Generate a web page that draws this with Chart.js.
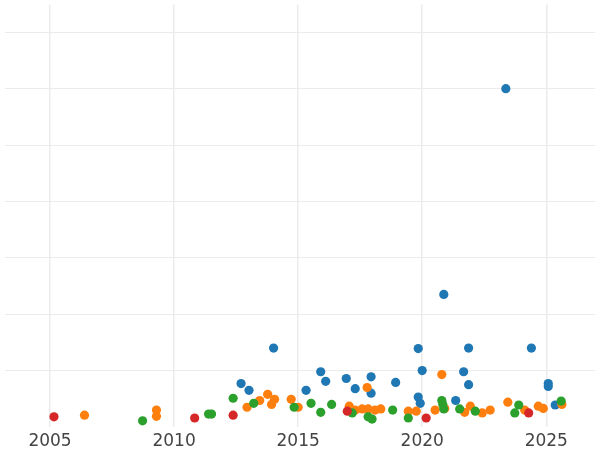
<!DOCTYPE html>
<html><head><meta charset="utf-8">
<script src="https://cdn.jsdelivr.net/npm/chart.js@4"></script>
<style>html,body{margin:0;padding:0;background:#fff}#w{width:600px;height:450px}</style>
</head><body><div id="w"><canvas id="c"></canvas></div>
<script>
const blueX=[2012.70,2013.02,2014.01,2015.32,2015.91,2016.11,2016.94,2017.30,2017.94,2017.94,2018.93,2019.84,2019.84,2019.92,2020.00,2020.87,2021.35,2021.67,2021.87,2021.87,2023.37,2024.40,2025.08,2025.08,2025.36];
const blueY=[0.77,0.65,1.40,0.65,0.98,0.81,0.86,0.68,0.89,0.60,0.79,1.39,0.53,0.42,1.00,2.35,0.47,0.98,1.40,0.75,6.00,1.40,0.77,0.72,0.39];
const orangeX=[2006.39,2009.29,2009.29,2012.94,2013.45,2013.77,2013.93,2014.05,2014.72,2015.00,2017.06,2017.30,2017.58,2017.78,2017.82,2018.10,2018.33,2019.44,2019.76,2020.52,2020.79,2020.91,2021.71,2021.94,2022.42,2022.74,2023.45,2024.13,2024.68,2024.88,2025.63];
const orangeY=[0.21,0.30,0.19,0.35,0.47,0.58,0.40,0.49,0.49,0.35,0.37,0.30,0.32,0.70,0.32,0.30,0.32,0.28,0.28,0.30,0.93,0.33,0.26,0.37,0.25,0.30,0.44,0.30,0.37,0.33,0.40];
const greenX=[2008.73,2011.39,2011.51,2012.38,2013.21,2014.84,2015.52,2015.91,2016.35,2017.18,2017.82,2017.98,2018.81,2019.44,2020.79,2020.83,2020.87,2021.51,2022.14,2023.73,2023.89,2025.60];
const greenY=[0.11,0.23,0.23,0.51,0.42,0.35,0.42,0.26,0.40,0.25,0.18,0.14,0.30,0.16,0.47,0.40,0.32,0.32,0.28,0.25,0.39,0.46];
const redX=[2005.16,2010.83,2012.38,2016.98,2020.16,2024.29];
const redY=[0.18,0.16,0.21,0.28,0.16,0.25];
const xTicks=[2005,2010,2015,2020,2025];
const pts=(xs,ys)=>xs.map((x,i)=>({x,y:ys[i]}));
const ds=(xs,ys,c,o)=>({data:pts(xs,ys),backgroundColor:c,borderWidth:0,pointRadius:4.6,pointHoverRadius:4.6,order:o});
new Chart(document.getElementById('c'),{type:'scatter',
data:{datasets:[ds(blueX,blueY,'#1f77b4',3),ds(orangeX,orangeY,'#ff7f0e',2),ds(greenX,greenY,'#2ca02c',1),ds(redX,redY,'#d62728',0)]},
options:{responsive:true,maintainAspectRatio:false,animation:false,layout:{padding:0},
plugins:{legend:{display:false},tooltip:{enabled:false}},
scales:{
x:{type:'linear',min:2003.17,max:2026.98,afterBuildTicks:a=>{a.ticks=xTicks.map(v=>({value:v}));},afterFit:a=>{a.height=23;},
 grid:{color:'#ebebeb',lineWidth:1.5,drawTicks:false},border:{display:false},
 ticks:{padding:4,color:'#444',font:{family:'DejaVu Sans',size:17},callback:v=>String(v)}},
y:{min:0,max:7.49,afterBuildTicks:a=>{a.ticks=[1,2,3,4,5,6,7].map(v=>({value:v}));},afterFit:a=>{a.width=0;},
 grid:{color:'#ebebeb',lineWidth:1,drawTicks:false},border:{display:false},ticks:{display:false}}
}}});
</script></body></html>
